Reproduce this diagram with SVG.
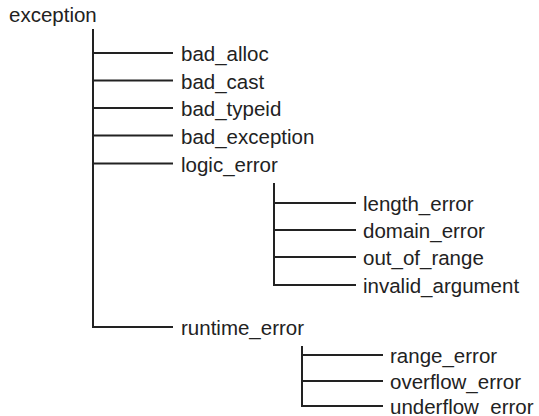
<svg xmlns="http://www.w3.org/2000/svg" width="539" height="416" viewBox="0 0 539 416">
<style>
  .t { font-family: "Liberation Sans", Arial, sans-serif; font-size: 20.5px; fill: #222; }
  .c { stroke: #222; stroke-width: 2; fill: none; }
</style>
<rect width="539" height="416" fill="#fff"/>
<g id="connectors">
  <path class="c" d="M93 29 V327 H173"/>
  <path class="c" d="M93 53 H173 M93 80.5 H173 M93 108 H173 M93 135.5 H173 M93 163.5 H173"/>
  <path class="c" d="M274 183 V285 H356"/>
  <path class="c" d="M274 203 H356 M274 230 H356 M274 257 H356"/>
  <path class="c" d="M302 346 V406 H383"/>
  <path class="c" d="M302 355 H383 M302 381 H383"/>
</g>
<g id="exception"><text class="t" x="9" y="22">exception</text></g>
<g id="bad_alloc"><text class="t" x="181" y="61">bad_alloc</text></g>
<g id="bad_cast"><text class="t" x="181" y="88.5">bad_cast</text></g>
<g id="bad_typeid"><text class="t" x="181" y="116">bad_typeid</text></g>
<g id="bad_exception"><text class="t" x="181" y="143.5">bad_exception</text></g>
<g id="logic_error"><text class="t" x="181" y="171.5">logic_error</text></g>
<g id="length_error"><text class="t" x="363" y="211">length_error</text></g>
<g id="domain_error"><text class="t" x="363" y="238">domain_error</text></g>
<g id="out_of_range"><text class="t" x="363" y="265">out_of_range</text></g>
<g id="invalid_argument"><text class="t" x="363" y="293">invalid_argument</text></g>
<g id="runtime_error"><text class="t" x="181" y="335">runtime_error</text></g>
<g id="range_error"><text class="t" x="390" y="363">range_error</text></g>
<g id="overflow_error"><text class="t" x="390" y="389">overflow_error</text></g>
<g id="underflow_error"><text class="t" x="390" y="414">underflow_error</text></g>
</svg>
